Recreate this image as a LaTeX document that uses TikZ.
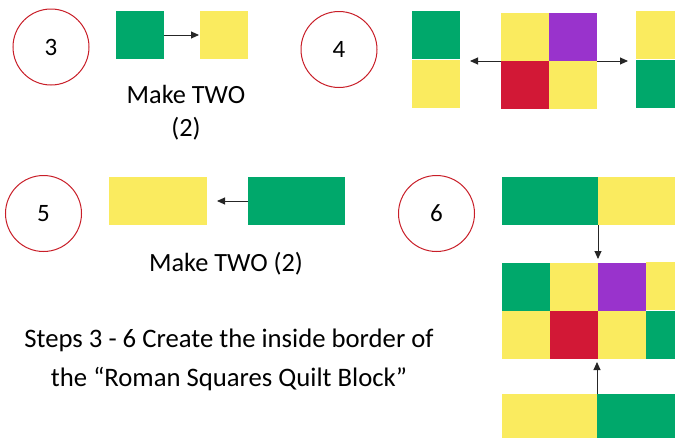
\documentclass[tikz,border=0pt]{standalone}
\usepackage{fontspec}
\setmainfont{Carlito}
\usetikzlibrary{arrows.meta,calc}
\definecolor{qgreen}{RGB}{0,168,107}
\definecolor{qyellow}{RGB}{250,235,95}
\definecolor{qpurple}{RGB}{153,51,204}
\definecolor{qred}{RGB}{210,24,54}
\definecolor{cred}{RGB}{200,30,40}
\tikzset{
  patch/.style={rectangle, inner sep=0pt, outer sep=0pt, anchor=north west, draw=none},
  sqp/.style={patch, minimum width=48, minimum height=48},
  barp/.style={patch, minimum width=97, minimum height=48},
  stepnum/.style={circle, draw=cred, line width=1pt, minimum size=76, inner sep=0pt, font=\fontsize{25}{28}\selectfont},
  arr/.style={draw=black!85, line width=0.9pt, -{Triangle[length=8pt,width=7pt]}},
  lbl/.style={align=center, font=\fontsize{26.3}{33}\selectfont, inner sep=0pt},
  captext/.style={align=center, font=\fontsize{26.7}{39}\selectfont, inner sep=0pt}
}
\begin{document}
\begin{tikzpicture}[x=1pt,y=-1pt]
\useasboundingbox (0,0) rectangle (675,437);
\begin{scope}
\clip (0,0) rectangle (675,437);
% step 3
\node[stepnum] (n3) at (51,47) {3};
\node[sqp, fill=qgreen] (g3) at (116,11) {};
\node[sqp, fill=qyellow] (y3) at (200,11) {};
\draw[arr, shorten >=1pt] (g3.east) -- (y3.west);
\node[lbl, anchor=north] (t3) at (186,85) {Make TWO\\(2)};
% step 4
\node[stepnum] (n4) at (339,49.5) {4};
\node[sqp, fill=qgreen] (l4g) at (412,11) {};
\node[sqp, fill=qyellow] (l4y) at (412,59.5) {};
\node[sqp, fill=qyellow] (c4a) at (501,13) {};
\node[sqp, fill=qpurple] (c4b) at (549,13) {};
\node[sqp, fill=qred] (c4c) at (501,61) {};
\node[sqp, fill=qyellow] (c4d) at (549,61) {};
\node[sqp, fill=qyellow] (r4y) at (636,11) {};
\node[sqp, fill=qgreen] (r4g) at (636,59.5) {};
\draw[arr, shorten >=10pt] (c4c.north west) -- (c4c.north west -| l4g.east);
\draw[arr, shorten >=8pt] (c4d.north east) -- (c4d.north east -| r4y.west);
% step 5
\node[stepnum] (n5) at (43.5,213.5) {5};
\node[barp, fill=qyellow, minimum width=98] (y5) at (109,177) {};
\node[barp, fill=qgreen] (g5) at (248,177) {};
\draw[arr, shorten >=10pt] (g5.west) -- (y5.east);
\node[lbl, anchor=north] (t5) at (226,252) {Make TWO (2)};
% step 6
\node[stepnum] (n6) at (436.5,213.5) {6};
\node[patch, fill=qgreen, minimum width=96, minimum height=48] (s6g) at (502,177) {};
\node[patch, fill=qyellow, minimum width=96, minimum height=48] (s6y) at (598,177) {};
\node[sqp, fill=qgreen] (m1) at (502,263) {};
\node[sqp, fill=qyellow] (m2) at (550,263) {};
\node[sqp, fill=qpurple] (m3) at (598,263) {};
\node[sqp, fill=qyellow] (m4) at (646,262) {};
\node[sqp, fill=qyellow] (m5) at (502,311) {};
\node[sqp, fill=qred] (m6) at (550,311) {};
\node[sqp, fill=qyellow] (m7) at (598,311) {};
\node[sqp, fill=qgreen] (m8) at (646,311) {};
\node[patch, fill=qyellow, minimum width=95, minimum height=48] (b6y) at (502,394) {};
\node[patch, fill=qgreen, minimum width=96, minimum height=48] (b6g) at (597,394) {};
\draw[arr, shorten >=4pt] (s6g.south east) -- (m3.north west);
\draw[arr, shorten >=3pt] (b6y.north east) -- (b6y.north east |- m7.south west);
\end{scope}
% caption
\node[captext, anchor=north] (captn) at (229,329) {Steps 3 - 6 Create the inside border of\\the “Roman Squares Quilt Block”};
\end{tikzpicture}
\end{document}
